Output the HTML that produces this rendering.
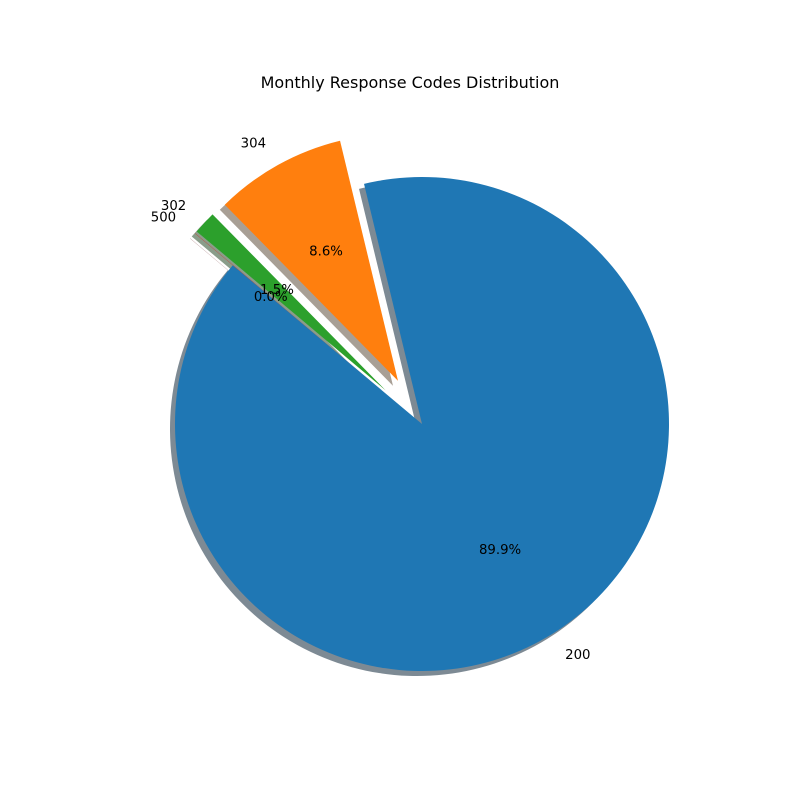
<!DOCTYPE html>
<html><head><meta charset="utf-8"><style>
html,body{margin:0;padding:0;background:#fff}
svg{display:block;font-family:"DejaVu Sans","Liberation Sans",sans-serif}
</style></head><body>
<svg id="chart" width="800" height="800" viewBox="0 0 800 800">
<rect width="800" height="800" fill="#fff"/>
<text x="410" y="88" font-size="16" text-anchor="middle" fill="#000">Monthly Response Codes Distribution</text>
<g id="shadows"></g>
<g id="wedges"></g>
<g id="labels"></g>
</svg>
<script>
const categories = ["200", "304", "302", "500"];
const values = [89.9, 8.6, 1.5, 0.02];
const explode = [0, 0.2, 0.2, 0.2];
const colors = ["#1f77b4", "#ff7f0e", "#2ca02c", "#d62728"];
const shadowColors = ["#7d8a94", "#a89f95", "#8a9d8a", "#b08a8a"];

const cx = 422, cy = 424, R = 247, startAngle = 140;
const NS = "http://www.w3.org/2000/svg";
const total = values.reduce((a, b) => a + b, 0);
function pt(x0, y0, r, deg) { const a = deg * Math.PI / 180; return [x0 + r * Math.cos(a), y0 - r * Math.sin(a)]; }
function wedgePath(x0, y0, a1, a2) {
  const p1 = pt(x0, y0, R, a1), p2 = pt(x0, y0, R, a2);
  const large = (a2 - a1) > 180 ? 1 : 0;
  return `M${x0},${y0} L${p1[0]},${p1[1]} A${R},${R} 0 ${large} 0 ${p2[0]},${p2[1]} Z`;
}
const sg = document.getElementById("shadows"), wg = document.getElementById("wedges"), lg = document.getElementById("labels");
let a = startAngle;
values.forEach((v, i) => {
  const span = v / total * 360;
  const a1 = a, a2 = a + span, mid = (a1 + a2) / 2;
  a = a2;
  const [ox, oy] = pt(cx, cy, explode[i] * R, mid);
  const sh = document.createElementNS(NS, "path");
  sh.setAttribute("d", wedgePath(ox - 5, oy + 5, a1, a2));
  sh.setAttribute("fill", shadowColors[i]);
  
  
  sg.appendChild(sh);
  const w = document.createElementNS(NS, "path");
  w.setAttribute("d", wedgePath(ox, oy, a1, a2));
  w.setAttribute("fill", colors[i]);
  
  
  wg.appendChild(w);
  const lp = pt(ox, oy, 1.1 * R, mid);
  const t = document.createElementNS(NS, "text");
  t.setAttribute("x", lp[0]); t.setAttribute("y", lp[1] + 4);
  t.setAttribute("font-size", "13.3");
  t.setAttribute("text-anchor", lp[0] > ox ? "start" : "end");
  t.textContent = categories[i];
  
  
  lg.appendChild(t);
  const pp = pt(ox, oy, 0.6 * R, mid);
  const p = document.createElementNS(NS, "text");
  p.setAttribute("x", pp[0]); p.setAttribute("y", pp[1] + 4);
  p.setAttribute("font-size", "13.3");
  p.setAttribute("text-anchor", "middle");
  p.textContent = (v / total * 100).toFixed(1) + "%";
  
  
  lg.appendChild(p);
});
</script>
</body></html>
